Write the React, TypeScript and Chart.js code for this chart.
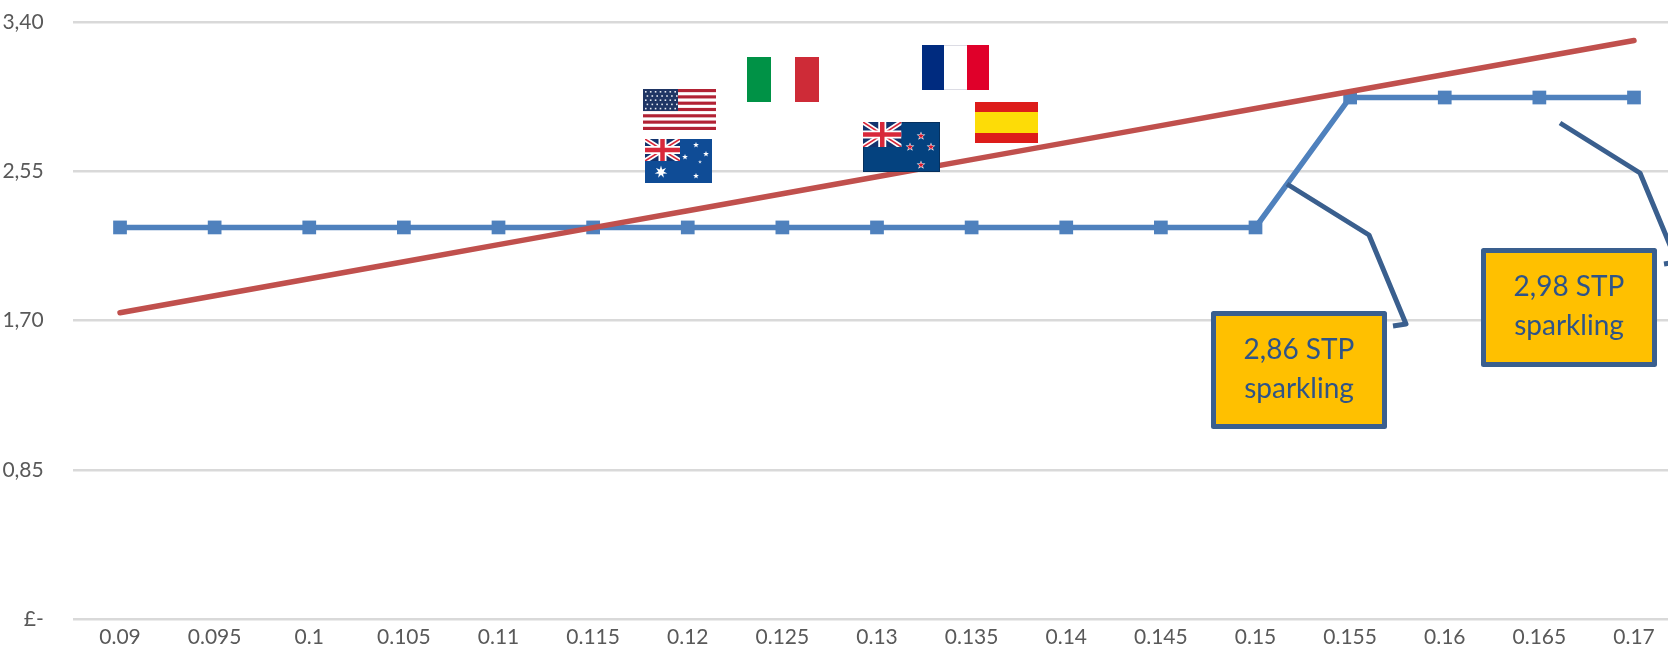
import React, { useEffect, useRef } from "react";
import { Chart, registerables } from "chart.js";

Chart.register(...registerables);

const categories = ["0.09","0.095","0.1","0.105","0.11","0.115","0.12","0.125","0.13","0.135","0.14","0.145","0.15","0.155","0.16","0.165","0.17"];
const stpValues = [2.23,2.23,2.23,2.23,2.23,2.23,2.23,2.23,2.23,2.23,2.23,2.23,2.23,2.97,2.97,2.97,2.97];
const trendValues = [1.744,1.841,1.938,2.035,2.132,2.229,2.325,2.422,2.519,2.616,2.713,2.81,2.907,3.004,3.101,3.198,3.295];
const yTickValues = [0,0.85,1.7,2.55,3.4];
const yTickLabels = ["£-","0,85","1,70","2,55","3,40"];

const FONT = "Lato, 'Open Sans', sans-serif";
const CALLOUT = "#3A5F8E";
const CALLOUT_TEXT = "#2F5488";

type Ctx = CanvasRenderingContext2D;

function star(ctx: Ctx, cx: number, cy: number, r: number, color: string, points = 5) {
  ctx.fillStyle = color;
  ctx.beginPath();
  for (let i = 0; i < points * 2; i++) {
    const rad = i % 2 === 0 ? r : r * 0.42;
    const a = -Math.PI / 2 + (i * Math.PI) / points;
    const x = cx + rad * Math.cos(a);
    const y = cy + rad * Math.sin(a);
    if (i === 0) ctx.moveTo(x, y); else ctx.lineTo(x, y);
  }
  ctx.closePath();
  ctx.fill();
}

function unionJack(ctx: Ctx, x: number, y: number, w: number, h: number, bg: string) {
  ctx.save();
  ctx.beginPath();
  ctx.rect(x, y, w, h);
  ctx.clip();
  ctx.fillStyle = bg;
  ctx.fillRect(x, y, w, h);
  const line = (x1: number, y1: number, x2: number, y2: number, c: string, lw: number) => {
    ctx.strokeStyle = c;
    ctx.lineWidth = lw;
    ctx.beginPath();
    ctx.moveTo(x1, y1);
    ctx.lineTo(x2, y2);
    ctx.stroke();
  };
  line(x, y, x + w, y + h, "#ffffff", 5);
  line(x + w, y, x, y + h, "#ffffff", 5);
  line(x, y, x + w, y + h, "#D8283A", 1.6);
  line(x + w, y, x, y + h, "#D8283A", 1.6);
  line(x + w / 2, y, x + w / 2, y + h, "#ffffff", 8);
  line(x, y + h / 2, x + w, y + h / 2, "#ffffff", 8);
  line(x + w / 2, y, x + w / 2, y + h, "#D8283A", 4.5);
  line(x, y + h / 2, x + w, y + h / 2, "#D8283A", 4.5);
  ctx.restore();
}

function drawFlags(ctx: Ctx) {
  // USA
  const usa = { x: 643, y: 89, w: 73, h: 41 };
  ctx.fillStyle = "#ffffff";
  ctx.fillRect(usa.x, usa.y, usa.w, usa.h);
  for (let i = 0; i < 13; i += 2) {
    ctx.fillStyle = "#B22234";
    ctx.fillRect(usa.x, usa.y + (i * usa.h) / 13, usa.w, usa.h / 13);
  }
  ctx.fillStyle = "#1F3564";
  ctx.fillRect(usa.x, usa.y, 35, 22);
  for (let r = 0; r < 5; r++) {
    for (let c = 0; c < 7; c++) {
      ctx.fillStyle = "#E6EAF2";
      ctx.fillRect(usa.x + 2 + c * 4.9 + (r % 2) * 1.6, usa.y + 2 + r * 4.2, 1.6, 1.6);
    }
  }
  // Australia
  ctx.fillStyle = "#0F4C96";
  ctx.fillRect(645, 139, 67, 44);
  unionJack(ctx, 645, 139, 35, 22, "#12336E");
  star(ctx, 661, 172, 6.5, "#ffffff", 7);
  star(ctx, 696, 145, 3, "#ffffff");
  star(ctx, 685, 157, 3, "#ffffff");
  star(ctx, 706, 154, 3, "#ffffff");
  star(ctx, 700, 162, 2, "#D5DEEB");
  star(ctx, 696, 176, 3, "#ffffff");
  // Italy
  ctx.fillStyle = "#009246";
  ctx.fillRect(747, 57, 24, 45);
  ctx.fillStyle = "#CE2B37";
  ctx.fillRect(795, 57, 24, 45);
  // France
  ctx.fillStyle = "#002B7F";
  ctx.fillRect(922, 45, 22, 45);
  ctx.fillStyle = "#ffffff";
  ctx.fillRect(944, 45, 23, 45);
  ctx.fillStyle = "#DCDCE4";
  ctx.fillRect(944, 45, 23, 1);
  ctx.fillRect(944, 89, 23, 1);
  ctx.fillStyle = "#E0002A";
  ctx.fillRect(967, 45, 22, 45);
  // Spain
  ctx.fillStyle = "#DD1C1A";
  ctx.fillRect(975, 102, 63, 41);
  ctx.fillStyle = "#FDDC07";
  ctx.fillRect(975, 112, 63, 21);
  // New Zealand
  ctx.fillStyle = "#04427F";
  ctx.fillRect(863, 122, 77, 50);
  ctx.strokeStyle = "#05305E";
  ctx.lineWidth = 1;
  ctx.strokeRect(863.5, 122.5, 76, 49);
  unionJack(ctx, 863, 122, 38.5, 25, "#12336E");
  const nzStars = [[921, 136], [910, 147], [931, 147], [921, 165]];
  for (const [sx, sy] of nzStars) {
    star(ctx, sx, sy, 4.6, "#ffffff");
    star(ctx, sx, sy, 3.2, "#D6182E");
  }
}

function drawCallout(
  ctx: Ctx,
  box: { x: number; y: number; w: number; h: number },
  leader: number[][],
  lines: string[],
  textY: number[],
) {
  ctx.strokeStyle = CALLOUT;
  ctx.lineWidth = 5;
  ctx.lineJoin = "round";
  ctx.lineCap = "butt";
  ctx.beginPath();
  leader.forEach(([px, py], i) => (i === 0 ? ctx.moveTo(px, py) : ctx.lineTo(px, py)));
  ctx.stroke();
  ctx.fillStyle = "#FFC000";
  ctx.lineWidth = 5;
  ctx.beginPath();
  ctx.rect(box.x, box.y, box.w, box.h);
  ctx.fill();
  ctx.stroke();
  ctx.fillStyle = CALLOUT_TEXT;
  ctx.font = `28px ${FONT}`;
  ctx.textAlign = "center";
  ctx.textBaseline = "middle";
  lines.forEach((t, i) => ctx.fillText(t, box.x + box.w / 2, textY[i]));
}

const overlayPlugin = {
  id: "overlay",
  afterDatasetsDraw(chart: Chart) {
    const ctx = chart.ctx;
    ctx.save();
    drawFlags(ctx);
    drawCallout(
      ctx,
      { x: 1213.5, y: 313.5, w: 171, h: 113 },
      [[1287, 184], [1369, 235], [1406, 324], [1393, 326]],
      ["2,86 STP", "sparkling"],
      [350, 389],
    );
    drawCallout(
      ctx,
      { x: 1483.5, y: 250.5, w: 171, h: 114 },
      [[1560, 123], [1640, 173], [1677, 262], [1664, 264]],
      ["2,98 STP", "sparkling"],
      [287, 326],
    );
    ctx.restore();
  },
};

export default function App() {
  const ref = useRef<HTMLCanvasElement>(null);
  useEffect(() => {
    if (!ref.current) return;
    const chart = new Chart(ref.current, {
      type: "line",
      data: {
        labels: categories,
        datasets: [
          {
            label: "STP",
            data: stpValues,
            order: 2,
            borderColor: "#4F81BD",
            backgroundColor: "#4F81BD",
            borderWidth: 5.5,
            pointStyle: "rect",
            pointRadius: 9.7,
            pointHoverRadius: 9.7,
            pointBorderWidth: 0,
            tension: 0,
          },
          {
            label: "Trend",
            data: trendValues,
            order: 1,
            borderColor: "#C0504D",
            borderWidth: 5.5,
            borderCapStyle: "round",
            pointRadius: 0,
            tension: 0,
          },
        ],
      },
      options: {
        responsive: false,
        animation: false,
        layout: { padding: { top: 22, left: 0, right: 0, bottom: 0 } },
        plugins: { legend: { display: false }, tooltip: { enabled: false } },
        scales: {
          x: {
            offset: true,
            grid: { display: false, drawTicks: false },
            border: { display: false },
            ticks: {
              color: "#595959",
              font: { family: FONT, size: 21 },
              padding: 6,
              maxRotation: 0,
              autoSkip: false,
            },
            afterFit(axis: any) {
              axis.height = 30;
              axis.paddingLeft = 0;
              axis.paddingRight = 0;
            },
          },
          y: {
            min: 0,
            max: 3.4,
            grid: { color: "#D9D9D9", lineWidth: 2.5, drawTicks: false },
            border: { display: false },
            afterBuildTicks(axis: any) {
              axis.ticks = yTickValues.map((value) => ({ value }));
            },
            ticks: {
              color: "#595959",
              font: { family: FONT, size: 21 },
              padding: 29,
              callback: (value: any) => yTickLabels[yTickValues.indexOf(Number(value))] ?? "",
            },
            afterFit(axis: any) {
              axis.width = 72.7;
              axis.paddingTop = 0;
              axis.paddingBottom = 0;
            },
          },
        },
      },
      plugins: [overlayPlugin],
    } as any);
    return () => chart.destroy();
  }, []);

  return (
    <div style={{ position: "fixed", left: 0, top: 0, width: 1668, height: 649, overflow: "hidden", background: "#ffffff" }}>
      <canvas ref={ref} width={1691} height={649} style={{ display: "block" }} />
    </div>
  );
}
